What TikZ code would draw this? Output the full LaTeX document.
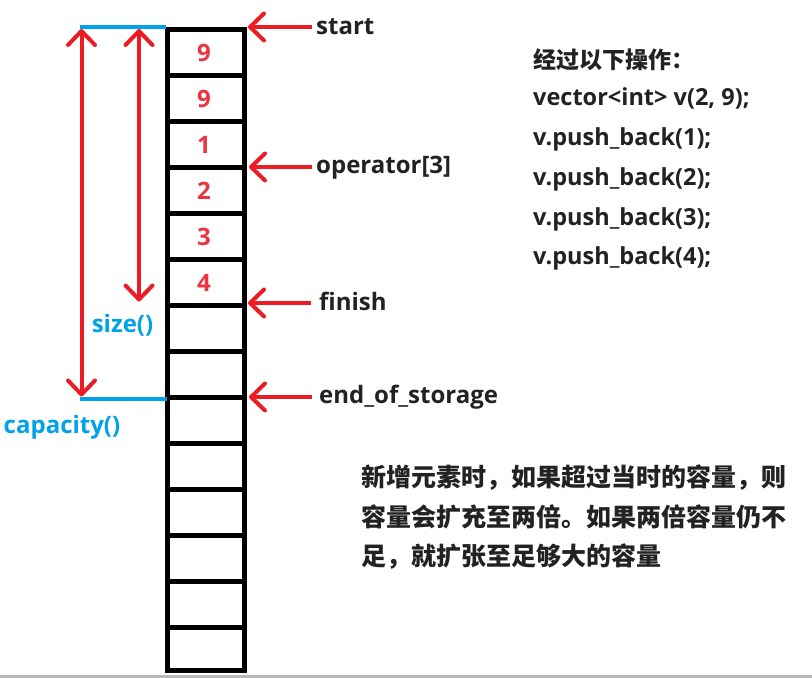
\documentclass[tikz,border=0pt]{standalone}
\usepackage{fontspec}
\setmainfont{Open Sans}
\newfontfamily\cjk{Noto Sans CJK SC}
\usetikzlibrary{arrows.meta}
\definecolor{arr}{HTML}{ED1C24}
\definecolor{blu}{HTML}{00A2E8}
\definecolor{num}{HTML}{EC3340}
\definecolor{txt}{HTML}{222222}
\begin{document}
\begin{tikzpicture}[x=1pt,y=-1pt,
  >={Straight Barb[length=14pt,width=27pt,round]},
  cell/.style={draw=black, line width=5pt, minimum width=77pt, minimum height=46pt, inner sep=0pt},
  numtxt/.style={inner sep=0pt, text=num, font=\bfseries\fontsize{24}{24}\selectfont},
  rarr/.style={draw=arr, line width=4pt, ->},
  barr/.style={draw=arr, line width=4pt, <->},
  bline/.style={draw=blu, line width=4pt},
  lab/.style={anchor=base west, inner sep=0pt, text=txt, font=\bfseries\fontsize{24}{24}\selectfont},
  blab/.style={anchor=base, inner sep=0pt, text=blu, font=\bfseries\fontsize{24}{24}\selectfont},
  code/.style={anchor=base west, inner sep=0pt, text=txt, font=\bfseries\fontsize{23.5}{23.5}\selectfont},
  head/.style={anchor=west, inner sep=0pt, text=txt, font=\cjk\bfseries\fontsize{23}{23}\selectfont},
  para/.style={anchor=west, inner sep=0pt, text=txt, font=\cjk\bfseries\fontsize{25}{25}\selectfont}
]
\useasboundingbox (0,0) rectangle (812,678);
\fill[white] (0,0) rectangle (812,678);
\fill[gray!55] (0,675) rectangle (812,678);

% cells
\foreach \i in {0,...,12} {
  \node[cell] (c\i) at (206,{52.5+46*\i}) {};
}
\node[cell, minimum height=43pt] (c13) at (206,649) {};
\foreach \v [count=\i from 0] in {9,9,1,2,3,4} {
  \node[numtxt] (n\i) at ([xshift=-2pt]c\i.center) {\v};
}

% blue marker lines
\coordinate (btl) at (80,27);
\coordinate (btr) at (166,27);
\coordinate (bbl) at (80,399);
\coordinate (bbr) at (167,399);
\draw[bline] (btl) -- (btr);
\draw[bline] (bbl) -- (bbr);

% vertical arrows
\coordinate (capT) at (81.5,29);
\coordinate (capB) at (81.5,396.5);
\coordinate (sizT) at (139,29);
\coordinate (sizB) at (139,301.5);
\draw[barr] (capB) -- (capT);
\draw[barr] (sizB) -- (sizT);

\node[blab] (lsize) at (122.5,332) {size()};
\node[blab] (lcap) at (62,433) {capacity()};

% right arrows and labels
\coordinate (aS0) at (312,27);   \coordinate (aS1) at (248,27);
\coordinate (aO0) at (312,167);  \coordinate (aO1) at (249,167);
\coordinate (aF0) at (311,303);  \coordinate (aF1) at (248,303);
\coordinate (aE0) at (312,397);  \coordinate (aE1) at (249,397);
\draw[rarr] (aS0) -- (aS1);
\draw[rarr] (aO0) -- (aO1);
\draw[rarr] (aF0) -- (aF1);
\draw[rarr] (aE0) -- (aE1);

\node[lab] (lstart) at (316,34) {start};
\node[lab] (lop) at (316,173) {operator[3]};
\node[lab] (lfin) at (319,310.5) {finish};
\node[lab] (leos) at (319,403) {end\_of\_storage};

% operations list
\node[head] (t0) at (533,60) {经过以下操作：};
\node[code] (t1) at (533,105) {vector<int> v(2, 9);};
\node[code] (t2) at (533,145) {v.push\_back(1);};
\node[code] (t3) at (533,185) {v.push\_back(2);};
\node[code] (t4) at (533,225) {v.push\_back(3);};
\node[code] (t5) at (533,264) {v.push\_back(4);};

% paragraph
\node[para] (p1) at (361,478) {新增元素时，如果超过当时的容量，则};
\node[para] (p2) at (361,517) {容量会扩充至两倍。如果两倍容量仍不};
\node[para] (p3) at (361,557) {足，就扩张至足够大的容量};
\end{tikzpicture}
\end{document}
